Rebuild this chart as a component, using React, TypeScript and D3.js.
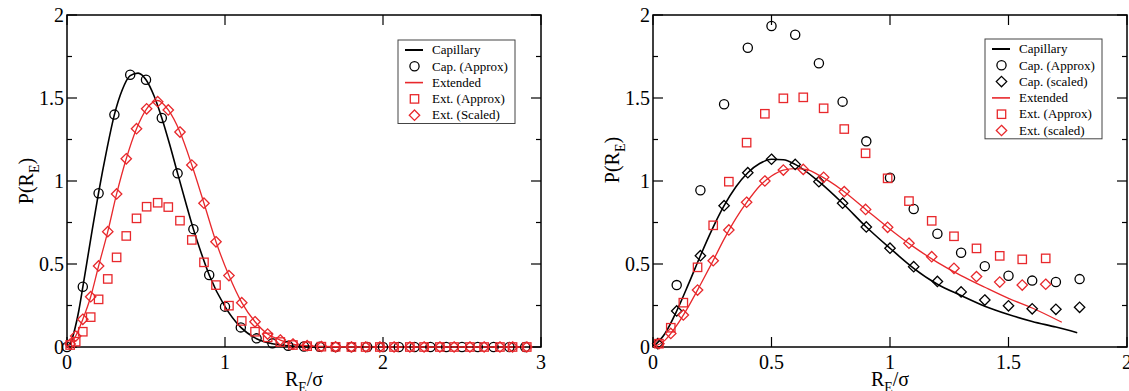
import React from 'react';
import * as d3 from 'd3';

const RED = '#e8282c';
const BLACK = '#000';

// ---------- left panel ----------
const capLineLX = [0, 0.025, 0.05, 0.075, 0.1, 0.15, 0.2, 0.25, 0.3, 0.35, 0.4, 0.45, 0.5, 0.55, 0.6, 0.65, 0.7, 0.75, 0.8, 0.85, 0.9, 1.0, 1.1, 1.2, 1.3, 1.4, 1.5, 1.6, 1.8, 2.2, 2.9];
const capLineLY = [0, 0.03, 0.11, 0.22, 0.36, 0.65, 0.93, 1.18, 1.4, 1.55, 1.635, 1.65, 1.61, 1.515, 1.38, 1.22, 1.046, 0.875, 0.71, 0.565, 0.434, 0.243, 0.118, 0.05, 0.02, 0.007, 0.002, 0.0005, 0, 0, 0];

const capApproxLX = [0, 0.1, 0.2, 0.3, 0.4, 0.5, 0.6, 0.7, 0.8, 0.9, 1.0, 1.1, 1.2, 1.3, 1.4, 1.5, 1.6, 1.7, 1.8, 1.9, 2.0, 2.1, 2.2, 2.3, 2.4, 2.5, 2.6, 2.7, 2.8, 2.9];
const capApproxLY = [0, 0.363, 0.926, 1.4, 1.64, 1.61, 1.38, 1.046, 0.71, 0.434, 0.243, 0.118, 0.052, 0.022, 0.008, 0.003, 0.001, 0, 0, 0, 0, 0, 0, 0, 0, 0, 0, 0, 0, 0];

const extLX = [0.02, 0.055, 0.1, 0.15, 0.2, 0.258, 0.314, 0.375, 0.44, 0.504, 0.574, 0.641, 0.715, 0.79, 0.867, 0.943, 1.025, 1.106, 1.19, 1.27, 1.35, 1.43, 1.52, 1.61, 1.7, 1.8, 1.89, 1.98, 2.07, 2.17, 2.26, 2.36, 2.45, 2.55, 2.64, 2.74, 2.82, 2.91];
const extApproxLY = [0.012, 0.032, 0.092, 0.18, 0.287, 0.41, 0.54, 0.669, 0.775, 0.845, 0.869, 0.843, 0.761, 0.645, 0.51, 0.373, 0.249, 0.157, 0.092, 0.058, 0.03, 0.012, 0.005, 0.002, 0.001, 0, 0, 0, 0, 0, 0, 0, 0, 0, 0, 0, 0, 0];
const extScaledLY = [0.018, 0.066, 0.167, 0.303, 0.488, 0.695, 0.922, 1.134, 1.315, 1.435, 1.478, 1.428, 1.295, 1.096, 0.866, 0.634, 0.43, 0.267, 0.152, 0.078, 0.042, 0.018, 0.008, 0.003, 0.001, 0, 0, 0, 0, 0, 0, 0, 0, 0, 0, 0, 0, 0];

const extLineLX = [0, 0.02, 0.055, 0.1, 0.15, 0.2, 0.258, 0.314, 0.375, 0.44, 0.504, 0.574, 0.641, 0.715, 0.79, 0.867, 0.943, 1.025, 1.106, 1.19, 1.27, 1.35, 1.43, 1.52, 1.61, 1.8, 2.9];
const extLineLY = [0, 0.018, 0.066, 0.167, 0.303, 0.488, 0.695, 0.922, 1.134, 1.315, 1.435, 1.485, 1.428, 1.295, 1.096, 0.866, 0.634, 0.43, 0.267, 0.152, 0.078, 0.042, 0.018, 0.008, 0.003, 0, 0];

// ---------- right panel ----------
const capLineRX = [0, 0.05, 0.1, 0.15, 0.2, 0.25, 0.3, 0.35, 0.4, 0.45, 0.5, 0.55, 0.6, 0.7, 0.8, 0.9, 1.0, 1.1, 1.2, 1.3, 1.4, 1.5, 1.6, 1.7, 1.79];
const capLineRY = [0, 0.08, 0.217, 0.38, 0.55, 0.71, 0.851, 0.965, 1.05, 1.105, 1.131, 1.128, 1.1, 0.996, 0.866, 0.723, 0.595, 0.474, 0.378, 0.31, 0.246, 0.196, 0.154, 0.12, 0.086];

const capApproxRX = [0.1, 0.2, 0.3, 0.4, 0.5, 0.6, 0.7, 0.8, 0.9, 1.0, 1.1, 1.2, 1.3, 1.4, 1.5, 1.6, 1.7, 1.8];
const capApproxRY = [0.373, 0.944, 1.462, 1.803, 1.934, 1.881, 1.709, 1.478, 1.239, 1.02, 0.831, 0.682, 0.568, 0.487, 0.429, 0.4, 0.392, 0.409];

const capScaledRX = [0.02, 0.1, 0.2, 0.3, 0.4, 0.5, 0.6, 0.7, 0.8, 0.9, 1.0, 1.1, 1.2, 1.3, 1.4, 1.5, 1.6, 1.7, 1.8];
const capScaledRY = [0.02, 0.217, 0.55, 0.851, 1.05, 1.131, 1.1, 0.996, 0.866, 0.723, 0.595, 0.484, 0.395, 0.332, 0.283, 0.248, 0.23, 0.227, 0.239];

const extRX = [0.025, 0.075, 0.128, 0.188, 0.254, 0.32, 0.395, 0.472, 0.55, 0.634, 0.72, 0.807, 0.897, 0.99, 1.08, 1.176, 1.27, 1.365, 1.463, 1.558, 1.657];
const extApproxRY = [0.02, 0.116, 0.267, 0.48, 0.733, 0.996, 1.231, 1.405, 1.498, 1.504, 1.438, 1.313, 1.167, 1.016, 0.879, 0.76, 0.667, 0.594, 0.549, 0.528, 0.534];
const extScaledRY = [0.02, 0.082, 0.193, 0.343, 0.52, 0.705, 0.872, 1.0, 1.066, 1.07, 1.022, 0.936, 0.829, 0.721, 0.625, 0.544, 0.474, 0.424, 0.391, 0.373, 0.378];

const extLineRX = [0, 0.05, 0.1, 0.15, 0.2, 0.25, 0.3, 0.35, 0.4, 0.45, 0.5, 0.55, 0.6, 0.65, 0.7, 0.8, 0.9, 1.0, 1.1, 1.2, 1.3, 1.4, 1.5, 1.6, 1.725];
const extLineRY = [0, 0.04, 0.13, 0.245, 0.375, 0.51, 0.65, 0.775, 0.88, 0.97, 1.03, 1.066, 1.075, 1.068, 1.035, 0.943, 0.826, 0.71, 0.603, 0.51, 0.43, 0.36, 0.293, 0.235, 0.149];

const xTicksL = [0, 1, 2, 3];
const xTicksR = [0, 0.5, 1, 1.5, 2];

type Kind = 'line' | 'circle' | 'square' | 'diamond';
type Series = { xs: number[]; ys: number[]; kind: Kind; color: string };
type Entry = { label: string; kind: Kind; color: string };

const FONT = '"Liberation Serif", "Times New Roman", serif';
const TOP = 15;
const BOTTOM = 347;

function Marker({ kind, x, y, color }: { kind: Kind; x: number; y: number; color: string }) {
  const sw = 1.3;
  if (kind === 'circle') return <circle cx={x} cy={y} r={4.6} fill="none" stroke={color} strokeWidth={sw} />;
  if (kind === 'square')
    return <rect x={x - 4.2} y={y - 4.2} width={8.4} height={8.4} fill="none" stroke={color} strokeWidth={sw} />;
  const h = 5.2;
  return (
    <path d={`M${x},${y - h}L${x + h},${y}L${x},${y + h}L${x - h},${y}Z`} fill="none" stroke={color} strokeWidth={sw} />
  );
}

function Panel(props: {
  x0: number; x1: number; xMax: number; xTicks: number[];
  series: Series[]; legend: Entry[]; lx: number; ly: number; lw: number; yLabelY: number;
}) {
  const { x0, x1, xMax, xTicks, series, legend, lx, ly, lw, yLabelY } = props;
  const x = d3.scaleLinear().domain([0, xMax]).range([x0, x1]);
  const y = d3.scaleLinear().domain([0, 2]).range([BOTTOM, TOP]);
  const yTicks = d3.range(0, 2.001, 0.25);
  const line = d3.line<number>().curve(d3.curveMonotoneX);
  const rowH = 16.3;
  const lh = legend.length * rowH + 2;

  return (
    <g>
      {/* frame */}
      <rect x={x0} y={TOP} width={x1 - x0} height={BOTTOM - TOP} fill="none" stroke="#000" strokeWidth={1.5} />
      {yTicks.map((t) => {
        const major = Math.abs(t * 2 - Math.round(t * 2)) < 1e-6;
        const len = major ? 10 : 5;
        return (
          <g key={'y' + t}>
            <line x1={x0} x2={x0 + len} y1={y(t)} y2={y(t)} stroke="#000" strokeWidth={1.2} />
            <line x1={x1} x2={x1 - len} y1={y(t)} y2={y(t)} stroke="#000" strokeWidth={1.2} />
            {major && (
              <text x={x0 - 3} y={y(t)} dy="0.35em" textAnchor="end" fontSize={20} fontFamily={FONT}>
                {String(t)}
              </text>
            )}
          </g>
        );
      })}
      {xTicks.map((t) => (
        <g key={'x' + t}>
          <line x1={x(t)} x2={x(t)} y1={BOTTOM} y2={BOTTOM - 10} stroke="#000" strokeWidth={1.2} />
          <line x1={x(t)} x2={x(t)} y1={TOP} y2={TOP + 10} stroke="#000" strokeWidth={1.2} />
          <text x={x(t)} y={BOTTOM + 22} textAnchor="middle" fontSize={20} fontFamily={FONT}>
            {String(t)}
          </text>
        </g>
      ))}
      {/* axis titles */}
      <text x={(x0 + x1) / 2} y={386} textAnchor="middle" fontSize={20} fontFamily={FONT}>
        R<tspan dy={6} fontSize={14}>E</tspan>
        <tspan dy={-6}>/σ</tspan>
      </text>
      <text transform={`translate(${x0 - 34},${yLabelY}) rotate(-90)`} textAnchor="middle" fontSize={20} fontFamily={FONT}>
        P(R<tspan dy={6} fontSize={14}>E</tspan>
        <tspan dy={-6}>)</tspan>
      </text>

      {/* data */}
      {series.filter((s) => s.kind === 'line').map((s, i) => (
        <path key={'l' + i}
          d={line.x((_, j) => x(s.xs[j])).y((v) => y(v))(s.ys) ?? ''}
          fill="none" stroke={s.color} strokeWidth={s.color === RED ? 1.3 : 1.6} />
      ))}
      {series.filter((s) => s.kind !== 'line').map((s, i) => (
        <g key={'m' + i}>
          {s.ys.map((v, j) => (
            <Marker key={j} kind={s.kind} x={x(s.xs[j])} y={y(v)} color={s.color} />
          ))}
        </g>
      ))}

      {/* legend */}
      <rect x={lx} y={ly} width={lw} height={lh} fill="#fff" stroke="#444" strokeWidth={1} />
      {legend.map((e, i) => {
        const cy = ly + 10 + i * rowH;
        return (
          <g key={e.label}>
            {e.kind === 'line' ? (
              <line x1={lx + 7} x2={lx + 25} y1={cy} y2={cy} stroke={e.color} strokeWidth={e.color === RED ? 1.6 : 2} />
            ) : (
              <Marker kind={e.kind} x={lx + 16.5} y={cy} color={e.color} />
            )}
            <text x={lx + 34} y={cy} dy="0.33em" fontSize={13} fontFamily={FONT}>
              {e.label}
            </text>
          </g>
        );
      })}
    </g>
  );
}

export default function App() {
  const leftSeries: Series[] = [
    { xs: capLineLX, ys: capLineLY, kind: 'line', color: BLACK },
    { xs: extLineLX, ys: extLineLY, kind: 'line', color: RED },
    { xs: capApproxLX, ys: capApproxLY, kind: 'circle', color: BLACK },
    { xs: extLX, ys: extApproxLY, kind: 'square', color: RED },
    { xs: extLX, ys: extScaledLY, kind: 'diamond', color: RED },
  ];
  const rightSeries: Series[] = [
    { xs: capLineRX, ys: capLineRY, kind: 'line', color: BLACK },
    { xs: extLineRX, ys: extLineRY, kind: 'line', color: RED },
    { xs: capApproxRX, ys: capApproxRY, kind: 'circle', color: BLACK },
    { xs: capScaledRX, ys: capScaledRY, kind: 'diamond', color: BLACK },
    { xs: extRX, ys: extApproxRY, kind: 'square', color: RED },
    { xs: extRX, ys: extScaledRY, kind: 'diamond', color: RED },
  ];
  const leftLegend: Entry[] = [
    { label: 'Capillary', kind: 'line', color: BLACK },
    { label: 'Cap. (Approx)', kind: 'circle', color: BLACK },
    { label: 'Extended', kind: 'line', color: RED },
    { label: 'Ext. (Approx)', kind: 'square', color: RED },
    { label: 'Ext. (Scaled)', kind: 'diamond', color: RED },
  ];
  const rightLegend: Entry[] = [
    { label: 'Capillary', kind: 'line', color: BLACK },
    { label: 'Cap. (Approx)', kind: 'circle', color: BLACK },
    { label: 'Cap. (scaled)', kind: 'diamond', color: BLACK },
    { label: 'Extended', kind: 'line', color: RED },
    { label: 'Ext. (Approx)', kind: 'square', color: RED },
    { label: 'Ext. (scaled)', kind: 'diamond', color: RED },
  ];

  return (
    <svg width={1129} height={391} style={{ position: 'absolute', left: 0, top: 0, background: '#fff' }}>
      <Panel x0={67} x1={541} xMax={3} xTicks={xTicksL} series={leftSeries} legend={leftLegend}
        lx={398} ly={40} lw={117} yLabelY={181} />
      <Panel x0={653} x1={1127} xMax={2} xTicks={xTicksR} series={rightSeries} legend={rightLegend}
        lx={985} ly={39} lw={117} yLabelY={160} />
    </svg>
  );
}
